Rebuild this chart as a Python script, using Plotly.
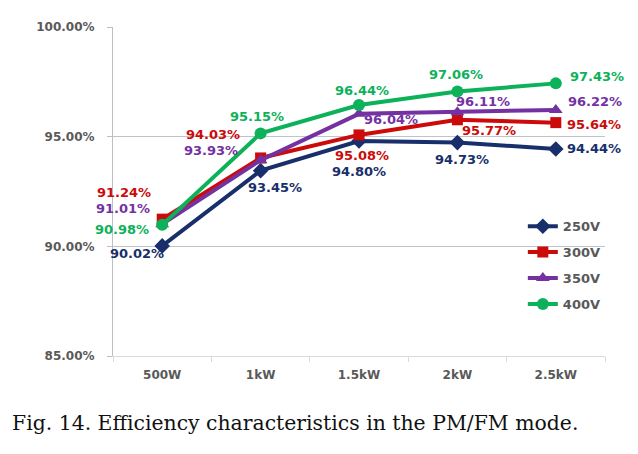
import plotly.graph_objects as go

categories = ['500W', '1kW', '1.5kW', '2kW', '2.5kW']
eff_250v = [90.02, 93.45, 94.80, 94.73, 94.44]
eff_300v = [91.24, 94.03, 95.08, 95.77, 95.64]
eff_350v = [91.01, 93.93, 96.04, 96.11, 96.22]
eff_400v = [90.98, 95.15, 96.44, 97.06, 97.43]
y_ticks = [85, 90, 95, 100]

series = [
    ('250V', eff_250v, '#182F6B', 'diamond', 12,
     [(-25, -8), (14, -17), (0, -30), (5, -17), (38, 0)]),
    ('300V', eff_300v, '#CC0A0A', 'square', 11,
     [(-38, 27), (-48, 23), (3, -21), (32, -11), (38, -2)]),
    ('350V', eff_350v, '#7431A2', 'triangle-up', 12,
     [(-39, 16), (-50, 10), (32, -6), (26, 11), (39, 8)]),
    ('400V', eff_400v, '#0DB159', 'circle', 12,
     [(-40, -5), (-4, 17), (3, 15), (-1, 17), (41, 7)]),
]

# page body has an 8px margin, so the figure's plot area sits at
# x 105..597, y 14..348 inside the figure
L, R, T, B = 105, 41, 14, 106
PW, PH = 638 - L - R, 454 - T - B

fig = go.Figure()
annotations = []
for name, vals, color, symbol, msize, offsets in series:
    fig.add_trace(go.Scatter(
        x=categories, y=vals, name=name, mode='lines+markers',
        legendgroup=name,
        line=dict(color=color, width=4),
        marker=dict(symbol=symbol, size=msize, color=color),
    ))
    # data labels placed around each point
    for cat, v, (dx, dy) in zip(categories, vals, offsets):
        annotations.append(dict(
            x=cat, y=v, xref='x', yref='y', text=f'{v:.2f}%',
            showarrow=False, xshift=dx, yshift=dy,
            font=dict(family='DejaVu Sans', size=13, color=color, weight='bold'),
        ))

# caption under the chart
annotations.append(dict(
    x=(2 - L) / PW, y=(454 - B - 416) / PH, xref='paper', yref='paper',
    text='Fig. 14. Efficiency characteristics in the PM/FM mode.',
    showarrow=False, xanchor='left', yanchor='middle',
    font=dict(family='DejaVu Serif', size=20.4, color='#111111'),
))

fig.update_layout(
    width=638, height=454,
    margin=dict(l=L, r=R, t=T, b=B),
    paper_bgcolor='white', plot_bgcolor='white',
    showlegend=True,
    legend=dict(x=0.833, y=0.44, xanchor='left', yanchor='top',
                bgcolor='rgba(0,0,0,0)', itemwidth=30, tracegroupgap=6,
                font=dict(family='DejaVu Sans', size=13, color='#595959', weight='bold')),
    annotations=annotations,
    xaxis=dict(
        type='category', range=[-0.5, 4.5],
        showgrid=False, showline=True, linecolor='#D9D9D9', linewidth=1,
        ticks='outside', tickson='boundaries', ticklen=5, tickcolor='#D9D9D9',
        ticklabelstandoff=8,
        tickfont=dict(family='DejaVu Sans', size=12, color='#595959', weight='bold'),
        zeroline=False,
    ),
    yaxis=dict(
        range=[85, 100], tickvals=y_ticks,
        ticktext=[f'{t:.2f}%' for t in y_ticks],
        showgrid=True, gridcolor='#BCC4CC', gridwidth=1,
        showline=True, linecolor='#BFBFBF', linewidth=1,
        ticks='outside', ticklen=5, tickcolor='#BFBFBF',
        ticklabelstandoff=10,
        tickfont=dict(family='DejaVu Sans', size=12, color='#595959', weight='bold'),
        zeroline=False,
    ),
)

fig.write_html('out.html')
